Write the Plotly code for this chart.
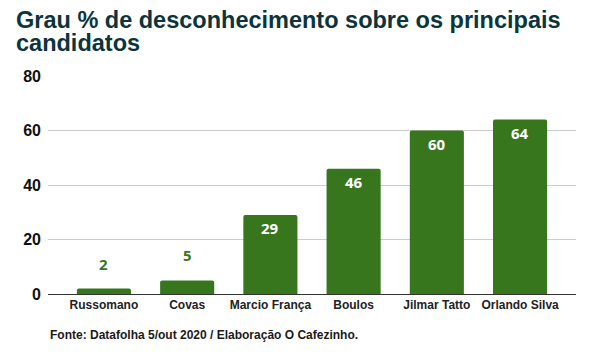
import plotly.graph_objects as go

categories = ["Russomano", "Covas", "Marcio França", "Boulos", "Jilmar Tatto", "Orlando Silva"]
values = [2, 5, 29, 46, 60, 64]
y_ticks = [0, 20, 40, 60, 80]
title_lines = ["Grau % de desconhecimento sobre os principais", "candidatos"]
footer = "Fonte: Datafolha 5/out 2020 / Elaboração O Cafezinho."

GREEN = "#38761d"
FONT = "Liberation Sans, Arial, sans-serif"

# page body has an 8px margin; figure is laid out to compensate
W, H = 584, 347
L, R, T, B = 40, 16, 68, 61
PH = H - T - B
PW = W - L - R


def py(yfig):
    return (H - B - yfig) / PH


def px(xfig):
    return (xfig - L) / PW


fig = go.Figure()
fig.add_trace(go.Bar(
    x=categories, y=values, marker=dict(color=GREEN, line=dict(width=0)),
    width=0.65, hoverinfo="skip",
))

annotations = []
for c, v in zip(categories, values):
    inside = v >= 15
    annotations.append(dict(
        x=c, y=v, xref="x", yref="y", text=str(v), showarrow=False,
        yanchor="middle", yshift=-13 if inside else 25,
        font=dict(family="Open Sans, sans-serif", size=15,
                  color="white" if inside else GREEN, weight="bold"),
    ))

for i, line in enumerate(title_lines):
    annotations.append(dict(
        x=px(6), y=py(12 + 23 * i), xref="paper", yref="paper", xanchor="left", yanchor="middle",
        text=line, showarrow=False,
        font=dict(family=FONT, size=23.5, color="#0c343d", weight="bold"),
    ))

annotations.append(dict(
    x=px(40), y=py(327), xref="paper", yref="paper", xanchor="left", yanchor="middle",
    text=footer, showarrow=False,
    font=dict(family=FONT, size=12, color="#1a1a1a", weight="bold"),
))

fig.update_layout(
    width=W, height=H,
    margin=dict(l=L, r=R, t=T, b=B),
    paper_bgcolor="white", plot_bgcolor="white",
    showlegend=False,
    annotations=annotations,
    barcornerradius=2,
)
fig.update_xaxes(
    range=[-0.672, 5.672], showgrid=False, showline=True, linecolor="#333333", linewidth=1,
    ticks="", tickfont=dict(family=FONT, size=12, color="#222222", weight="bold"),
    fixedrange=True,
)
fig.update_yaxes(
    range=[0, 80], tickvals=y_ticks, showgrid=True, gridcolor="#cccccc", gridwidth=1,
    zeroline=False, showline=False, ticks="", ticklabelstandoff=6,
    tickfont=dict(family=FONT, size=16, color="#111111", weight="bold"),
    fixedrange=True,
)

fig.write_html("out.html")
